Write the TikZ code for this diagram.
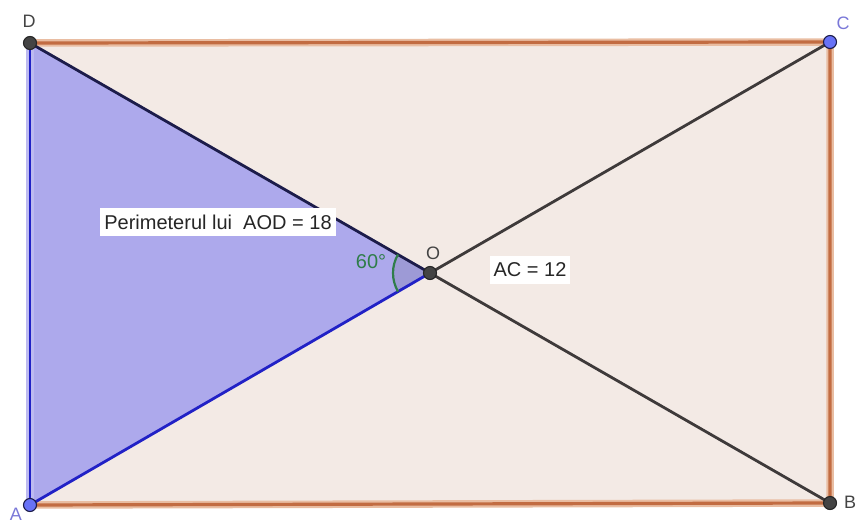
\documentclass[tikz,border=0pt]{standalone}
\usepackage{fontspec}
\setmainfont{Liberation Sans}
\usetikzlibrary{positioning}
\definecolor{rectfill}{HTML}{F3EAE5}
\definecolor{rectedge}{HTML}{C26C42}
\definecolor{rectglow}{HTML}{E9BDA2}
\definecolor{trifill}{HTML}{ADA9EC}
\definecolor{angfill}{HTML}{9D9AD6}
\definecolor{triedge}{HTML}{2121C6}
\definecolor{navyedge}{HTML}{1C1C4A}
\definecolor{diagedge}{HTML}{3E3A3A}
\definecolor{ptblue}{HTML}{6872F6}
\definecolor{ptdark}{HTML}{444444}
\definecolor{labblue}{HTML}{7A78D8}
\definecolor{anggreen}{HTML}{2F7D4A}
\tikzset{
  % --- points ----------------------------------------------------------------
  pt/.style={circle,draw=black!85,fill=ptdark,inner sep=0pt,minimum size=13pt,
             line width=1.1pt},
  ptfree/.style={pt,fill=ptblue,draw=navyedge},
  ptlab/.style={font=\fontsize{18}{18}\selectfont,text=ptdark,inner sep=1pt},
  ptlabfree/.style={ptlab,text=labblue},
  % --- segments --------------------------------------------------------------
  rim/.style={rectedge,line width=3.2pt,line join=miter},
  rimglow/.style={rectglow,line width=7.5pt,line join=miter},
  diag/.style={diagedge,line width=2.8pt},
  triside/.style={triedge,line width=2.8pt},
  trinavy/.style={navyedge,line width=2.8pt},
  % --- texts -----------------------------------------------------------------
  infobox/.style={fill=white,inner xsep=4pt,inner ysep=7pt,
                  font=\fontsize{20}{20}\selectfont,text=black!85},
  anglab/.style={font=\fontsize{20}{20}\selectfont,text=anggreen,inner sep=1pt},
}
\begin{document}
\begin{tikzpicture}[x=1pt, y=1pt]
  \useasboundingbox (0,0) rectangle (858,523);

  \coordinate (A) at (30,18);
  \coordinate (B) at (830,20);
  \coordinate (C) at (830,481);
  \coordinate (D) at (30,480);
  \coordinate (O) at (430,250);

  % rectangle and triangle AOD
  \fill[rectfill] (A) -- (B) -- (C) -- (D) -- cycle;
  \fill[trifill] (A) -- (O) -- (D) -- cycle;
  \fill[angfill] (O) -- ++(150.1:37) arc[start angle=150.1,end angle=210.1,radius=37] -- cycle;
  \draw[rimglow] (A) -- (B) -- (C) -- (D) -- cycle;
  \draw[rim] (A) -- (B) -- (C) -- (D) -- cycle;
  \draw[trifill!80!white,line width=8pt] (A) -- (D);

  \draw[diag] (O) -- (C);
  \draw[diag] (O) -- (B);
  \draw[trinavy] (D) -- (O);
  \draw[triside] (A) -- (O);
  \draw[triside] (A) -- (D);
  \draw[anggreen,line width=2.2pt] ([shift={(150.1:37)}]O) arc[start angle=150.1,end angle=210.1,radius=37];

  \node[pt]     (pD) at (D) {};
  \node[pt]     (pO) at (O) {};
  \node[pt]     (pB) at (B) {};
  \node[ptfree] (pA) at (A) {};
  \node[ptfree] (pC) at (C) {};

  \node[ptlab]     at (29,502) {D};
  \node[ptlab]     at (433,270) {O};
  \node[ptlab]     at (850,21)  {B};
  \node[ptlabfree] at (16,9)    {A};
  \node[ptlabfree] at (843,500) {C};

  \node[anglab] (a60) at (371,261) {60°};
  \node[infobox] (perim) at (218,301) {Perimeterul lui\ \ AOD = 18};
  \node[infobox] (ac) at (530,253) {AC = 12};
\end{tikzpicture}
\end{document}
